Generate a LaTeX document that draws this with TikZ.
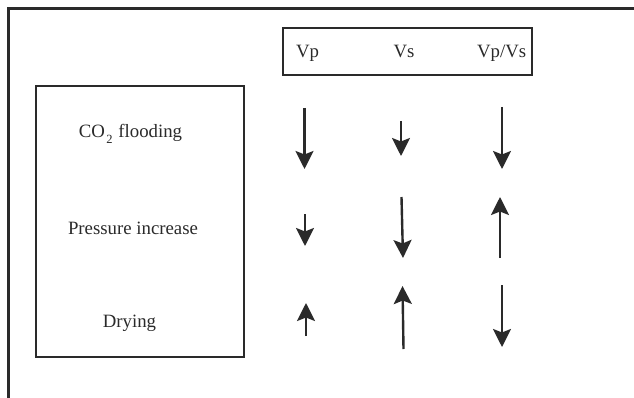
\documentclass[tikz,border=0pt]{standalone}
\usepackage{fontspec}
\setmainfont{Liberation Serif}
\usetikzlibrary{arrows.meta}
\definecolor{ink}{HTML}{2A2A2A}
\tikzset{
  frameline/.style={draw=ink, line width=2.4pt},
  boxline/.style={draw=ink, line width=1.3pt},
  lbl/.style={anchor=base, inner sep=0pt, text=ink, font=\fontsize{18.8}{22}\selectfont},
  trend/.style={draw=ink, line width=2.4pt, -{Stealth[length=18pt, width=18pt, inset=3.5pt]}}
}
\begin{document}
\begin{tikzpicture}[x=1pt, y=-1pt]
\useasboundingbox (0,0) rectangle (634,398);
% outer partial frame
\coordinate (fbl) at (8.5,398);
\coordinate (ftl) at (8.5,8.5);
\coordinate (ftr) at (634,8.5);
\draw[frameline] (fbl) -- (ftl) -- (ftr);
% header box
\node[boxline, minimum width=249pt, minimum height=47pt, inner sep=0pt] (hdr) at (407.5,51.5) {};
\node[lbl] (vp) at (307.5,57.3) {Vp};
\node[lbl] (vs) at (404,57.3) {Vs};
\node[lbl] (vpvs) at (501.7,57.3) {Vp/Vs};
% left box
\node[boxline, minimum width=208pt, minimum height=271pt, inner sep=0pt] (cases) at (140,221.5) {};
\node[lbl] (co2) at (130.5,137.7) {CO\hspace{1.5pt}\raisebox{-0.65ex}{\fontsize{12.5}{13}\selectfont 2}\hspace{1pt} flooding};
\node[lbl] (press) at (133,234.3) {Pressure increase};
\node[lbl] (dry) at (129.5,327.5) {Drying};
% arrows: Vp column
\coordinate (a11s) at (304.5,108); \coordinate (a11e) at (304.5,169);
\coordinate (a12s) at (305,214);   \coordinate (a12e) at (305,246);
\coordinate (a13s) at (306,336);   \coordinate (a13e) at (306,303);
% Vs column
\coordinate (a21s) at (401,121);   \coordinate (a21e) at (401,156);
\coordinate (a22s) at (401.5,197); \coordinate (a22e) at (403,258);
\coordinate (a23s) at (403.5,349); \coordinate (a23e) at (402.5,286);
% Vp/Vs column
\coordinate (a31s) at (502,107);   \coordinate (a31e) at (502,169);
\coordinate (a32s) at (500,258);   \coordinate (a32e) at (500,197);
\coordinate (a33s) at (502,285);   \coordinate (a33e) at (502,347);
\foreach \a in {11,12,13,21,22,23,31,32,33}{
  \draw[trend] (a\a s) -- (a\a e);
}
\end{tikzpicture}
\end{document}
